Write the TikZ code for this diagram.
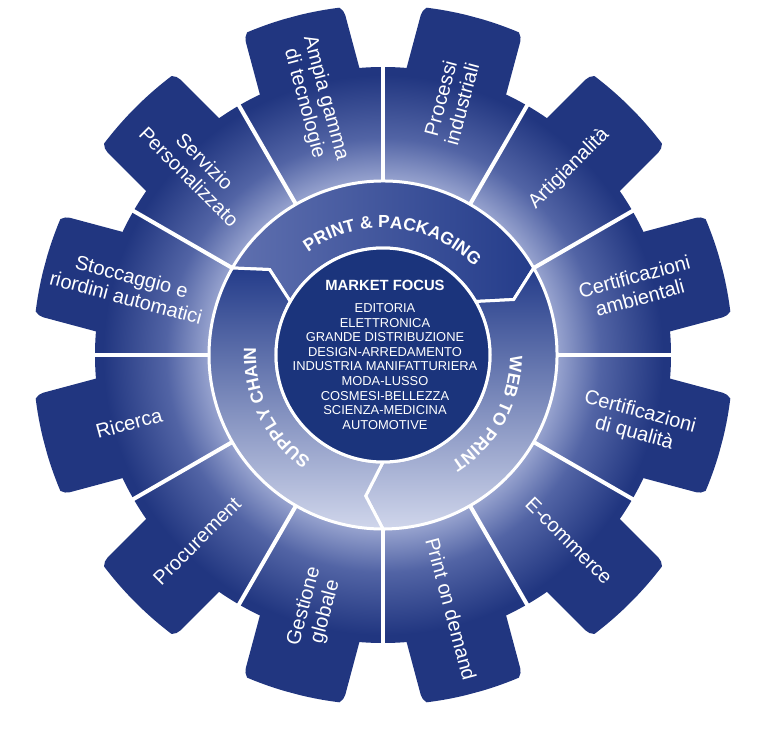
\documentclass[tikz,border=0pt]{standalone}
\usepackage{fontspec}
\setmainfont{Liberation Sans}
\usetikzlibrary{decorations.text}
\definecolor{gearNavy}{RGB}{33,54,128}
\definecolor{gearMid}{RGB}{82,100,165}
\definecolor{gearLight}{RGB}{150,162,206}
\definecolor{ringDark}{RGB}{36,60,138}
\definecolor{ringMid}{RGB}{95,112,175}
\definecolor{ringLight}{RGB}{208,214,235}
\definecolor{coreNavy}{RGB}{27,52,124}
\pgfdeclareradialshading{gearglow}{\pgfpoint{0bp}{0bp}}{color(0bp)=(gearLight); color(12.5bp)=(gearLight); color(15.5bp)=(gearMid); color(20bp)=(gearNavy); color(50bp)=(gearNavy)}
\newcommand\ringfont{\fontsize{17.5}{17.5}\selectfont\bfseries\color{white}}

\begin{document}
\begin{tikzpicture}[x=1pt, y=1pt,
    divider/.style={white, line width=4pt},
    band/.style={draw=white, line width=3pt},
    seglbl/.style={text=white, align=center, font=\fontsize{20}{22}\selectfont},
    corelbl/.style={text=white, align=center, font=\fontsize{12.9}{14.6}\selectfont},
    ringtext/.style={decorate, decoration={text along path, text align=center, text={|\ringfont|#1}}}
  ]
  \useasboundingbox (-383,-379) rectangle (384,355);

  % gear body
  \begin{scope}
    \clip (0,0) circle (288);
    \shade[shading=gearglow] (0,0) circle (350);
  \end{scope}
  \foreach \a in {15,45,...,345} {
    \begin{scope}
      \clip[rotate=\a, rounded corners=12pt] (200,-51.5) rectangle (350,51.5);
      \shade[shading=gearglow] (0,0) circle (350);
    \end{scope}
  }
  \foreach \a in {0,30,...,330}
    \draw[divider] (\a:170) -- (\a:289);

  % ring
  \path[band, left color=ringMid, middle color=ringLight, right color=ringDark]
    (150:174) arc[start angle=150, end angle=30, radius=174] -- (23:142) -- (30:107)
    arc[start angle=30, end angle=150, radius=107] -- (143:142) -- cycle;
  \path[band, top color=ringDark, middle color=ringMid, bottom color=ringLight]
    (30:174) arc[start angle=30, end angle=-90, radius=174] -- (-97:142) -- (-90:107)
    arc[start angle=-90, end angle=30, radius=107] -- (23:142) -- cycle;
  \path[band, top color=ringDark, middle color=ringMid, bottom color=ringLight]
    (270:174) arc[start angle=270, end angle=150, radius=174] -- (143:142) -- (150:107)
    arc[start angle=150, end angle=270, radius=107] -- (263:142) -- cycle;

  \path[ringtext={PRINT {\&} PACKAGING}] (145:127) arc[start angle=145, end angle=25, radius=127];
  \path[ringtext={WEB TO PRINT}] (31:127) arc[start angle=31, end angle=-89, radius=127];
  \path[ringtext={SUPPLY CHAIN}] (266:127) arc[start angle=266, end angle=146, radius=127];

  % core
  \node[circle, fill=coreNavy, draw=white, line width=3pt, minimum size=214pt, inner sep=0pt] (core) at (0,0) {};
  \node[text=white, font=\fontsize{14.8}{16}\selectfont\bfseries] (focus) at (2,70) {MARKET FOCUS};
  \node[corelbl] (markets) at (2,-11.5) {EDITORIA\\ELETTRONICA\\GRANDE DISTRIBUZIONE\\DESIGN-ARREDAMENTO\\INDUSTRIA MANIFATTURIERA\\MODA-LUSSO\\COSMESI-BELLEZZA\\SCIENZA-MEDICINA\\AUTOMOTIVE};

  % segment labels
  \foreach \a/\r/\t [count=\i] in {
      105/-75/{Ampia gamma\\di tecnologie},
      75/75/{Processi\\industriali},
      45/45/{Artigianalità},
      15/15/{Certificazioni\\ambientali},
      -15/-15/{Certificazioni\\di qualità},
      -45/-45/{E-commerce},
      -75/-75/{Print on demand},
      -105/75/{Gestione\\globale},
      -135/45/{Procurement},
      -165/15/{Ricerca},
      165/-15/{Stoccaggio e\\riordini automatici},
      135/-45/{Servizio\\Personalizzato}}
    \node[seglbl, rotate=\r] (seg\i) at (\a:263) {\t};
\end{tikzpicture}
\end{document}
